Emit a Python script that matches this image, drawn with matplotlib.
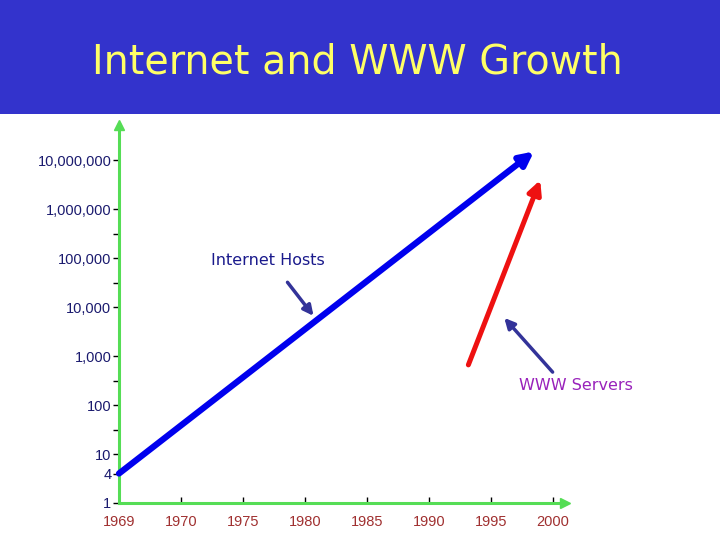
import numpy as np
import matplotlib
matplotlib.use('Agg')
import matplotlib.pyplot as plt
from matplotlib.patches import Rectangle

# tick labels
anos = [1969, 1970, 1975, 1980, 1985, 1990, 1995, 2000]
valores_y = [1, 4, 10, 100, 1000, 10000, 100000, 1000000, 10000000]
rotulos_y = ['1', '4', '10', '100', '1,000', '10,000', '100,000', '1,000,000', '10,000,000']
minor_y = [31.6, 316, 31600, 316000]

# series (start, end)
hosts_anos = [1969, 1998.5]
hosts_valores = [4, 1.5e7]
www_anos = [1993.2, 1999.0]
www_valores = [660, 3.9e6]

# pointers: label position, arrow tail, arrow tip
hosts_label = (1977.0, 9.0e4)
hosts_seta = [(1978.6, 3.2e4), (1980.7, 6.6e3)]
www_label = (2001.9, 2.45e2)
www_seta = [(2000.0, 4.7e2), (1996.1, 6.0e3)]


def fwd(x):
    x = np.asarray(x, dtype=float)
    return np.where(x < 1970, x - 1969, 1 + (x - 1970) / 5)


def inv(p):
    p = np.asarray(p, dtype=float)
    return np.where(p < 1, p + 1969, 1970 + (p - 1) * 5)


fig = plt.figure(figsize=(7.2, 5.4), dpi=100)
fig.patches.append(Rectangle((0, 1 - 114 / 540), 1, 114 / 540, transform=fig.transFigure,
                             facecolor='#3333cc', edgecolor='none', zorder=0))
fig.text(0.496, 1 - 62 / 540, 'Internet and WWW Growth', color='#ffff66', fontsize=28.5,
         ha='center', va='center', fontfamily='DejaVu Sans')

ax = fig.add_axes([119 / 720, 1 - 503 / 540, 446 / 720, 378 / 540])
ax.set_xscale('function', functions=(fwd, inv))
ax.set_yscale('log')
ax.set_xlim(1969, 2001)
ax.set_ylim(1, 5.2e7)

verde = '#55dd55'
for lado in ['top', 'right']:
    ax.spines[lado].set_visible(False)
for lado in ['left', 'bottom']:
    ax.spines[lado].set_color(verde)
    ax.spines[lado].set_linewidth(2.2)
ax.plot(1, 0, marker='>', color=verde, markersize=7, transform=ax.transAxes, clip_on=False)
ax.plot(0, 1, marker='^', color=verde, markersize=7, transform=ax.transAxes, clip_on=False)

ax.set_xticks(anos)
ax.set_xticklabels([str(a) for a in anos], fontfamily='Liberation Sans')
ax.xaxis.set_minor_locator(plt.NullLocator())
ax.set_yticks(valores_y)
ax.set_yticklabels(rotulos_y, fontfamily='Liberation Sans')
ax.set_yticks(minor_y, minor=True)
ax.yaxis.set_minor_formatter(plt.NullFormatter())
ax.tick_params(axis='x', direction='in', length=4, width=1, color='black',
               labelcolor='#a03030', labelsize=10.5, pad=9)
ax.tick_params(axis='y', which='both', direction='out', length=4, width=1, color='black',
               labelcolor='#1a1a6e', labelsize=10.5, pad=1.5)

# Internet hosts
ax.annotate('', xy=(hosts_anos[1], hosts_valores[1]), xytext=(hosts_anos[0], hosts_valores[0]),
            arrowprops=dict(arrowstyle='-|>,head_length=0.8,head_width=0.4', color='#0000ee',
                            lw=4.5, shrinkA=0, shrinkB=0), annotation_clip=False)
# WWW servers
ax.annotate('', xy=(www_anos[1], www_valores[1]), xytext=(www_anos[0], www_valores[0]),
            arrowprops=dict(arrowstyle='-|>,head_length=0.8,head_width=0.4', color='#ee1111',
                            lw=3.6, shrinkA=0, shrinkB=0), annotation_clip=False)

# pointers
ax.text(hosts_label[0], hosts_label[1], 'Internet Hosts', color='#1a1a8c', fontsize=11.5,
        ha='center', va='center')
ax.annotate('', xy=hosts_seta[1], xytext=hosts_seta[0],
            arrowprops=dict(arrowstyle='-|>,head_length=0.6,head_width=0.3', color='#333399',
                            lw=2.5, shrinkA=0, shrinkB=0))
ax.text(www_label[0], www_label[1], 'WWW Servers', color='#9922bb', fontsize=11.5,
        ha='center', va='center', clip_on=False)
ax.annotate('', xy=www_seta[1], xytext=www_seta[0],
            arrowprops=dict(arrowstyle='-|>,head_length=0.6,head_width=0.3', color='#333399',
                            lw=2.5, shrinkA=0, shrinkB=0))

fig.savefig('out.png', dpi=100)
